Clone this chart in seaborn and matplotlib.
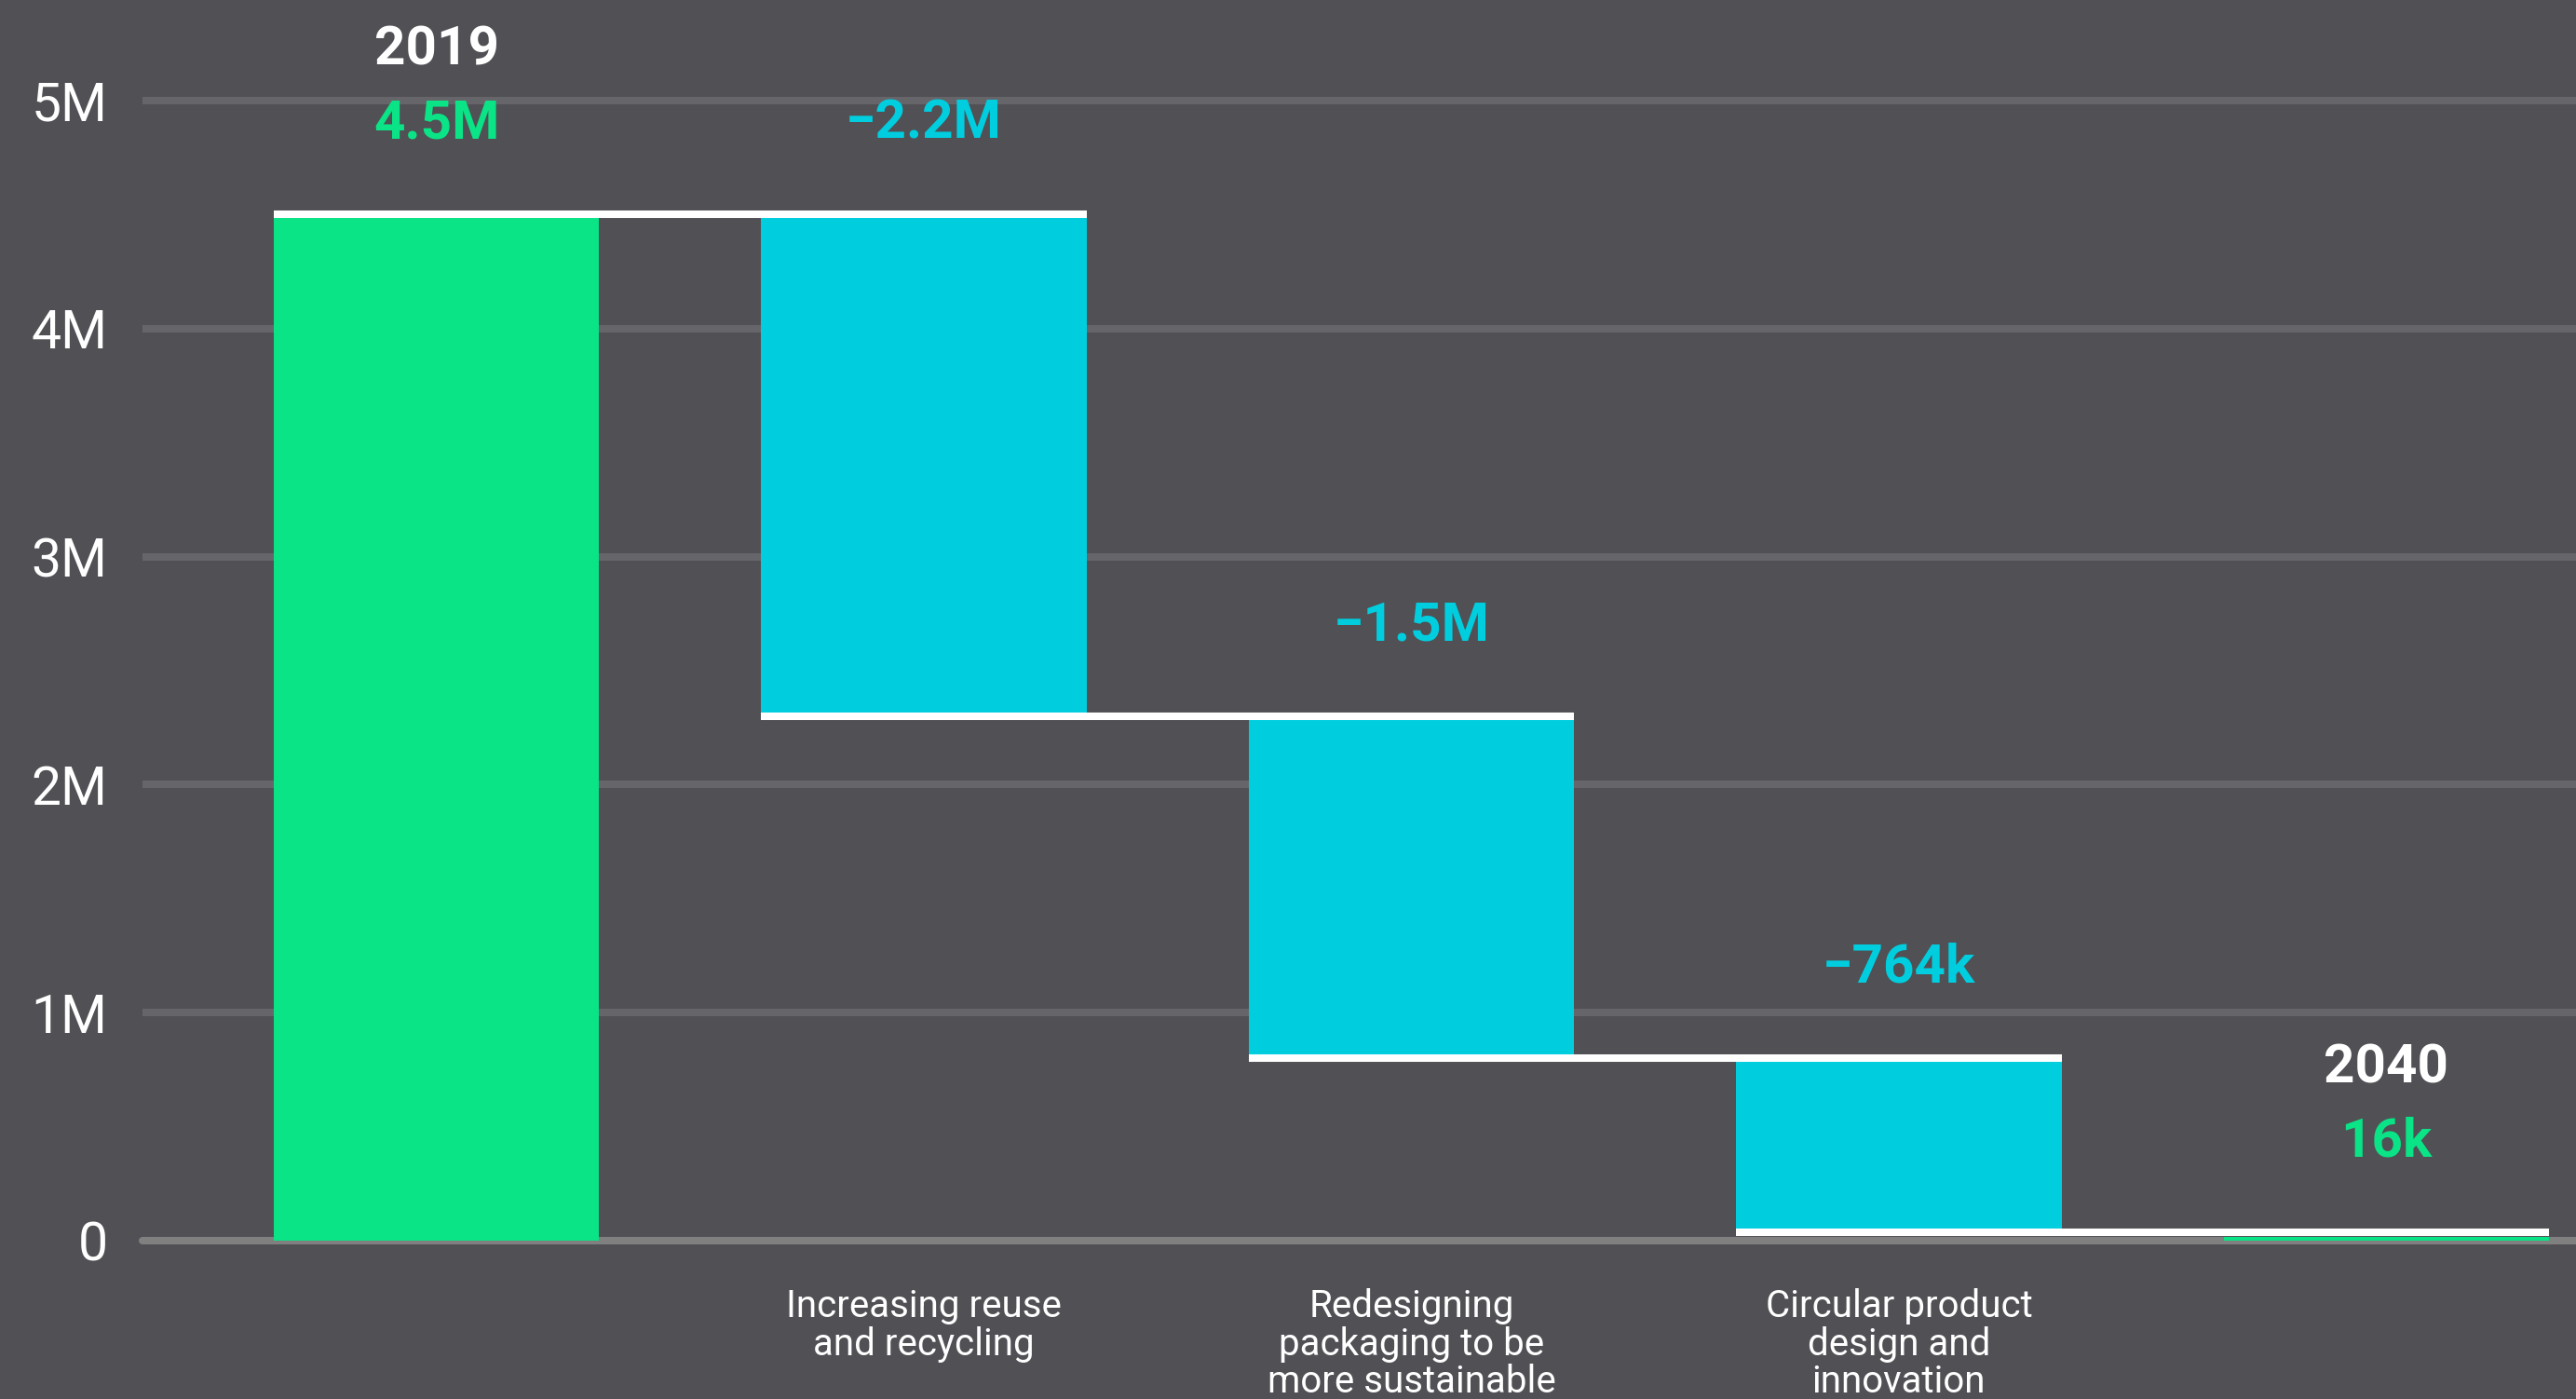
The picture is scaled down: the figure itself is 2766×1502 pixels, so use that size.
import pandas as pd
import seaborn as sns
import matplotlib.pyplot as plt

# values
categories = ["2019",
              "Increasing reuse\nand recycling",
              "Redesigning\npackaging to be\nmore sustainable",
              "Circular product\ndesign and\ninnovation",
              "2040"]
start_total = 4.5e6
changes = [-2.2e6, -1.5e6, -764e3]
end_total = 16e3
year_labels = ["2019", "", "", "", "2040"]
y_ticks = [0, 1e6, 2e6, 3e6, 4e6, 5e6]
y_tick_labels = ["0", "1M", "2M", "3M", "4M", "5M"]

bg = "#505055"
green = "#0ae386"
cyan = "#00cedf"
grid_col = "#66656a"
zero_col = "#808080"


def fmt(v):
    sign = "\u2212" if v < 0 else ""
    v = abs(v)
    if v >= 1e6:
        return f"{sign}{v / 1e6:.1f}M"
    return f"{sign}{v / 1e3:.0f}k"


# waterfall geometry
levels = [start_total]
for c in changes:
    levels.append(levels[-1] + c)
bottoms = [0] + levels[1:] + [0]
heights = [start_total] + [-c for c in changes] + [end_total]
values = [start_total] + changes + [end_total]
colors = [green] + [cyan] * len(changes) + [green]

df = pd.DataFrame({"category": categories, "height": heights, "bottom": bottoms})

sns.set_theme(style="white", rc={"axes.facecolor": bg, "figure.facecolor": bg})
plt.rcParams["font.family"] = ["Roboto", "DejaVu Sans"]

fig = plt.figure(figsize=(27.66, 15.02), dpi=100)
ax = fig.add_axes([0.0553, 0.1132, 0.9447, 0.8868])

bar_w = 0.667
sns.barplot(data=df, x="category", y="height", bottom=df["bottom"].values,
            color=green, saturation=1, width=bar_w, errorbar=None,
            linewidth=0, zorder=2, ax=ax)
for patch, c in zip(ax.patches, colors):
    patch.set_facecolor(c)

# connector lines between bars
for i, lev in enumerate(levels):
    ax.hlines(lev, i - bar_w / 2, i + 1 + bar_w / 2, color="white", lw=5.8, zorder=3)

# value + year labels above bars
for i in range(len(categories)):
    top = bottoms[i] + heights[i]
    anchor = max(top, levels[i - 1]) if i > 0 else top
    ax.annotate(fmt(values[i]), (i, anchor), xytext=(0, 70), textcoords="offset points",
                ha="center", va="center", color=colors[i], fontsize=42, fontweight="bold")
    if year_labels[i]:
        ax.annotate(year_labels[i], (i, anchor), xytext=(0, 127), textcoords="offset points",
                    ha="center", va="center", color="white", fontsize=42, fontweight="bold")

ax.set_xticks(range(len(categories)))
ax.set_xticklabels(["" if year_labels[i] else categories[i] for i in range(len(categories))],
                   fontsize=29, color="white")
for lbl in ax.get_xticklabels():
    lbl.set_linespacing(1.05)
ax.set_yticks(y_ticks)
ax.set_yticklabels(y_tick_labels, fontsize=41, color="white")
ax.tick_params(axis="x", length=0, pad=37)
ax.tick_params(axis="y", length=0, pad=27)

ax.set_xlim(-0.603, 4.389)
ax.set_ylim(0, 5.441e6)
ax.grid(axis="y", color=grid_col, lw=5.8)
ax.set_axisbelow(True)
ax.axhline(0, color=zero_col, lw=5.8, zorder=1.5, clip_on=False)
for s in ax.spines.values():
    s.set_visible(False)
ax.set_xlabel("")
ax.set_ylabel("")

fig.savefig("out.png", dpi=100, facecolor=bg)
